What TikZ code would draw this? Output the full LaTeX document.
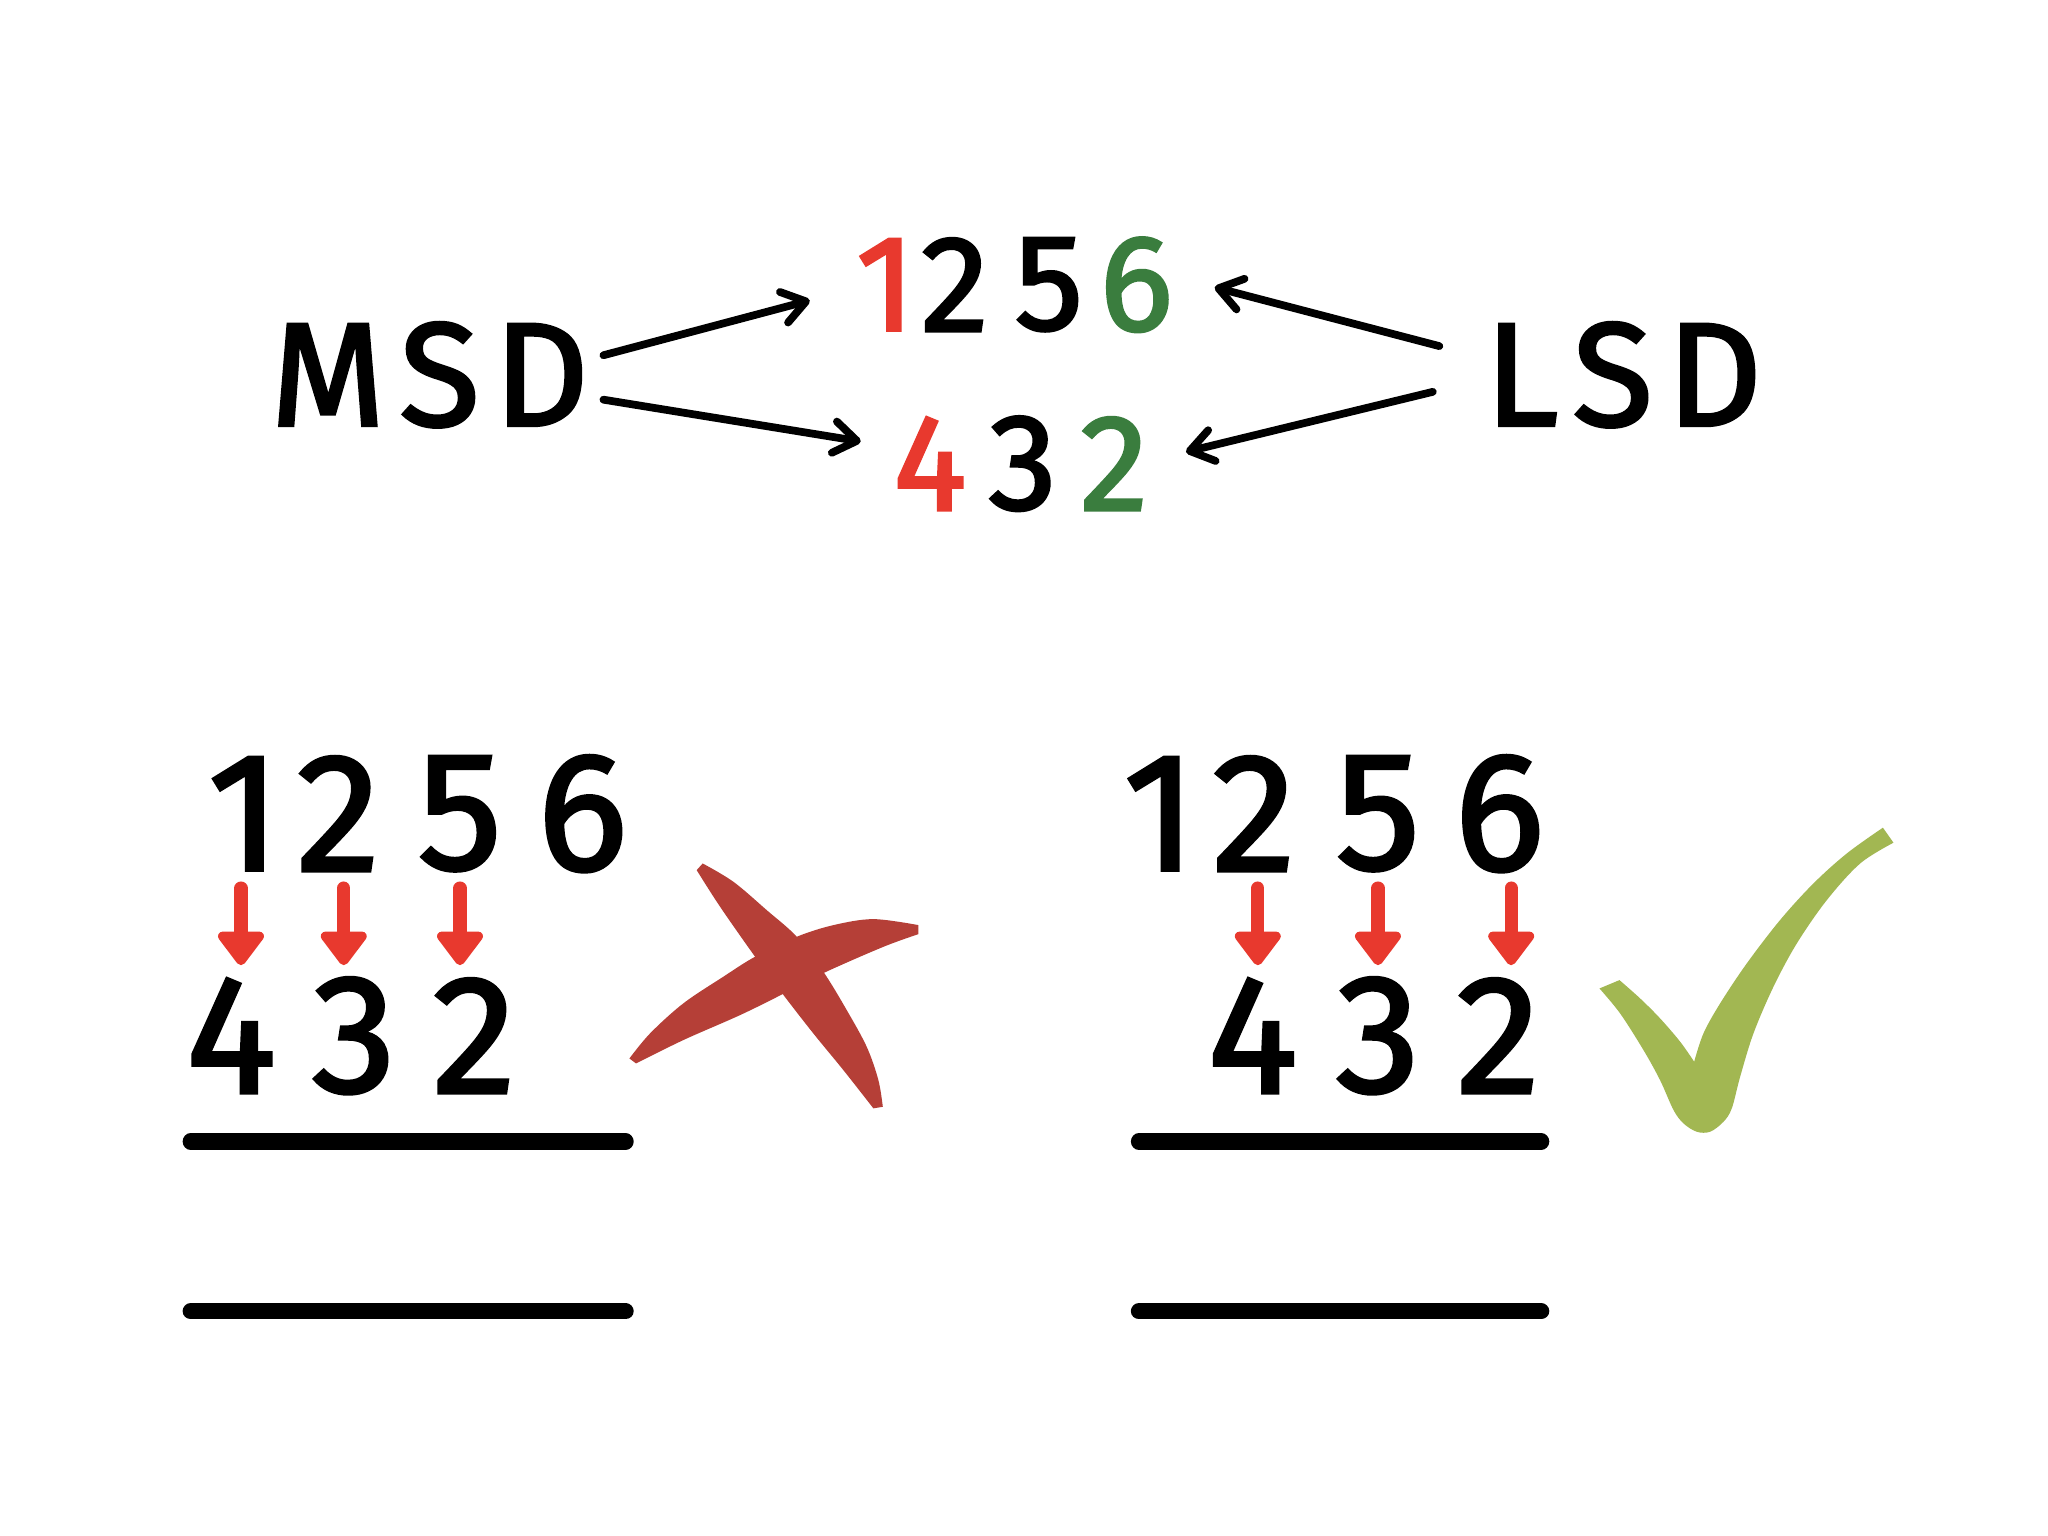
\documentclass[tikz,border=0pt]{standalone}
\usepackage{fontspec}
\setmainfont{Fira Sans}
\newfontfamily\handfont{Fira Sans}[FakeBold=2]
\usetikzlibrary{arrows.meta}
\definecolor{dred}{HTML}{E8392E}
\definecolor{dgreen}{HTML}{3A7D3E}
\definecolor{xred}{HTML}{B53F37}
\definecolor{ckgreen}{HTML}{A2B752}
\begin{document}
\begin{tikzpicture}[x=0.01306cm,y=-0.01306cm,
  word/.style={inner sep=0pt,font=\handfont\fontsize{42}{42}\selectfont},
  topdig/.style={inner sep=0pt,font=\handfont\fontsize{39}{39}\selectfont},
  bigdig/.style={inner sep=0pt,font=\handfont\fontsize{48}{48}\selectfont},
  blackarrow/.style={line width=2.2pt,line cap=round,-{Straight Barb[length=6.5pt,width=9pt,round]}},
  redarrow/.style={draw=dred,line width=3.8pt,line cap=round,-{Triangle[width=15pt,length=10.5pt,round]}},
  rule/.style={line width=4.6pt,line cap=round}]
\useasboundingbox (0,0) rectangle (1568,1176);
\fill[white] (0,0) rectangle (1568,1176);
% top part
\node[word] (msd) at (329,287) {M\hspace{4pt}S\hspace{4pt}D};
\node[word] (lsd) at (1243,287) {L\hspace{4pt}S\hspace{4pt}D};
\node[topdig,text=dred] (a1) at (678,218) {1};
\node[topdig] (a2) at (731,218) {2};
\node[topdig] (a5) at (803,218) {5};
\node[topdig,text=dgreen] (a6) at (870,218) {6};
\node[topdig,text=dred] (b4) at (712,355) {4};
\node[topdig] (b3) at (783,355) {3};
\node[topdig,text=dgreen] (b2) at (853,355) {2};
\coordinate (m1) at (462,272); \coordinate (m1e) at (620,230);
\coordinate (m2) at (462,306); \coordinate (m2e) at (659,338);
\coordinate (l1) at (1102,265); \coordinate (l1e) at (930,220);
\coordinate (l2) at (1097,300); \coordinate (l2e) at (908,346);
\draw[blackarrow] (m1) -- (m1e);
\draw[blackarrow] (m2) -- (m2e);
\draw[blackarrow] (l1) -- (l1e);
\draw[blackarrow] (l2) -- (l2e);
% bottom left
\node[bigdig] (p1) at (187,623) {1};
\node[bigdig] (p2) at (259,623) {2};
\node[bigdig] (p5) at (352,623) {5};
\node[bigdig] (p6) at (446,623) {6};
\node[bigdig] (q4) at (177,793) {4};
\node[bigdig] (q3) at (271,793) {3};
\node[bigdig] (q2) at (363,793) {2};
\coordinate (pa1) at (184.5,680); \coordinate (pa1e) at (184.5,739);
\coordinate (pa2) at (263.2,680); \coordinate (pa2e) at (263.2,739);
\coordinate (pa3) at (352.2,680); \coordinate (pa3e) at (352.2,739);
\draw[redarrow] (pa1) -- (pa1e);
\draw[redarrow] (pa2) -- (pa2e);
\draw[redarrow] (pa3) -- (pa3e);
\coordinate (r1a) at (146,874); \coordinate (r1b) at (479,874);
\coordinate (r2a) at (146,1004); \coordinate (r2b) at (479,1004);
\draw[rule] (r1a) -- (r1b);
\draw[rule] (r2a) -- (r2b);
% red cross
\fill[xred] plot[smooth,tension=0.55] coordinates {(533.4,666.2) (551.3,694.2) (578.1,732.5) (599.3,761.1) (622.7,791.2) (645.7,819.3) (668.7,848.6)}
  -- plot[smooth,tension=0.55] coordinates {(675.9,847.4) (672.5,826.9) (663.6,801.5) (648.3,773.4) (630.9,744.8) (610,717.2) (587,696.8) (561.5,675.1) (538,661.1)} -- cycle;
\fill[xred] plot[smooth,tension=0.55] coordinates {(481.9,810.4) (497.7,791.2) (523.2,768.2) (553.8,747.8) (578.1,732.5) (610,717.2) (638.1,708.3) (668.7,703.7) (703.2,708.3)}
  -- plot[smooth,tension=0.55] coordinates {(703.2,715.2) (676.4,724.9) (630.9,744.8) (599.3,761.1) (566.6,777.2) (523.2,796.3) (487,814.2)} -- cycle;
% bottom right
\node[bigdig] (s1) at (888,623) {1};
\node[bigdig] (s2) at (960,623) {2};
\node[bigdig] (s5) at (1055,623) {5};
\node[bigdig] (s6) at (1148,623) {6};
\node[bigdig] (t4) at (959,793) {4};
\node[bigdig] (t3) at (1055,793) {3};
\node[bigdig] (t2) at (1147,793) {2};
\coordinate (sa1) at (963,680); \coordinate (sa1e) at (963,739);
\coordinate (sa2) at (1055,680); \coordinate (sa2e) at (1055,739);
\coordinate (sa3) at (1157,680); \coordinate (sa3e) at (1157,739);
\draw[redarrow] (sa1) -- (sa1e);
\draw[redarrow] (sa2) -- (sa2e);
\draw[redarrow] (sa3) -- (sa3e);
\coordinate (u1a) at (872,874); \coordinate (u1b) at (1180,874);
\coordinate (u2a) at (872,1004); \coordinate (u2b) at (1180,1004);
\draw[rule] (u1a) -- (u1b);
\draw[rule] (u2a) -- (u2b);
% check mark
\fill[ckgreen] plot[smooth,tension=0.55] coordinates {(1224.6,756.8) (1240.4,775.9) (1258.3,804) (1271,827) (1281.3,849.9) (1288.9,860.1) (1299.1,866.5) (1309.3,866.5) (1319.5,858.9) (1325.9,848.6) (1332.3,824.4) (1342.5,791.2) (1357.8,755.5) (1375.7,722.3) (1398.7,689.1) (1424.2,661.1) (1449.7,645.2)}
  -- plot[smooth,tension=0.55] coordinates {(1441.6,633.7) (1414,653.4) (1388.4,676.4) (1362.9,704.4) (1337.4,737.6) (1317,768.2) (1304.2,791.2) (1297.1,812.9)}
  -- plot[smooth,tension=0.55] coordinates {(1297.1,812.9) (1286.4,797.6) (1271,779.7) (1255.7,764.4) (1239.9,750.4)} -- cycle;
\end{tikzpicture}
\end{document}
